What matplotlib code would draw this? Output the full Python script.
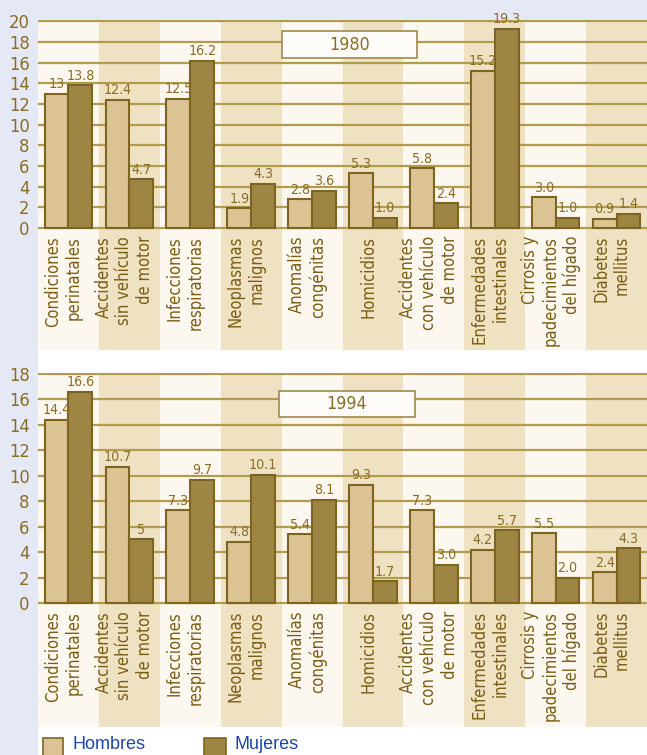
import matplotlib
matplotlib.use("Agg")
import matplotlib.pyplot as plt
from matplotlib import font_manager as fm
import numpy as np
from matplotlib.patches import Rectangle

# narrow font if there is one, else Arial-like
_fonts = fm.fontManager.ttflist
_narrow = [f for f in _fonts if f.name == 'Liberation Sans Narrow']
_dv_cond = [f for f in _fonts if f.name == 'DejaVu Sans' and f.stretch in ('condensed', 'semi-condensed')]
if _narrow:
    NFAM, NSTRETCH, SCALE = ['Liberation Sans Narrow', 'DejaVu Sans'], 'normal', 1.0
elif _dv_cond:
    NFAM, NSTRETCH, SCALE = ['DejaVu Sans'], 'condensed', 0.85
else:
    NFAM, NSTRETCH, SCALE = ['Liberation Sans', 'DejaVu Sans'], 'normal', 0.86
plt.rcParams['font.family'] = NFAM
plt.rcParams['font.stretch'] = NSTRETCH

categories = ["Condiciones\nperinatales", "Accidentes\nsin vehículo\nde motor",
              "Infecciones\nrespiratorias", "Neoplasmas\nmalignos",
              "Anomalías\ncongénitas", "Homicidios",
              "Accidentes\ncon vehículo\nde motor", "Enfermedades\nintestinales",
              "Cirrosis y\npadecimientos\ndel hígado", "Diabetes\nmellitus"]

hombres_1980 = [13, 12.4, 12.5, 1.9, 2.8, 5.3, 5.8, 15.2, 3.0, 0.9]
mujeres_1980 = [13.8, 4.7, 16.2, 4.3, 3.6, 1.0, 2.4, 19.3, 1.0, 1.4]
hom_lbl_1980 = ["13", "12.4", "12.5", "1.9", "2.8", "5.3", "5.8", "15.2", "3.0", "0.9"]
muj_lbl_1980 = ["13.8", "4.7", "16.2", "4.3", "3.6", "1.0", "2.4", "19.3", "1.0", "1.4"]

hombres_1994 = [14.4, 10.7, 7.3, 4.8, 5.4, 9.3, 7.3, 4.2, 5.5, 2.4]
mujeres_1994 = [16.6, 5, 9.7, 10.1, 8.1, 1.7, 3.0, 5.7, 2.0, 4.3]
hom_lbl_1994 = ["14.4", "10.7", "7.3", "4.8", "5.4", "9.3", "7.3", "4.2", "5.5", "2.4"]
muj_lbl_1994 = ["16.6", "5", "9.7", "10.1", "8.1", "1.7", "3.0", "5.7", "2.0", "4.3"]

W, H = 647, 755
lavender = '#e5e9f5'
light_col = '#fcf8ef'
shade_col = '#eee2c2'
grid_col = '#b39b4e'
edge_col = '#7d6521'
hom_col = '#dbc393'
muj_col = '#9d8643'
text_col = '#8a6c26'
lab_col = '#7a5c12'

fig = plt.figure(figsize=(W / 100, H / 100), dpi=100, facecolor='white')
fig.patches.append(Rectangle((0, 0), 38 / W, 1, transform=fig.transFigure,
                             facecolor=lavender, edgecolor='none', zorder=-10))
fig.patches.append(Rectangle((0, 1 - 20 / H), 1, 20 / H, transform=fig.transFigure,
                             facecolor=lavender, edgecolor='none', zorder=-10))


def panel(top_px, bot_px, zero_px, px_per_unit, ymax, hom, muj, hl, ml, year, box):
    ax = fig.add_axes([38 / W, 1 - bot_px / H, (W - 38) / W, (bot_px - top_px) / H])
    ylo = -(bot_px - zero_px) / px_per_unit
    yhi = (zero_px - top_px) / px_per_unit
    ax.set_xlim(-0.5, 9.5)
    ax.set_ylim(ylo, yhi)
    x = np.arange(len(categories))
    for i in x:
        ax.axvspan(i - 0.5, i + 0.5, color=light_col if i % 2 == 0 else shade_col,
                   zorder=0, lw=0)
    ticks = np.arange(0, ymax + 1, 2)
    for t in ticks:
        ax.axhline(t, color=grid_col, lw=1.6, zorder=1)
    w = 0.39
    ax.bar(x - w / 2, hom, w, color=hom_col, edgecolor=edge_col, lw=1.5, zorder=3)
    ax.bar(x + w / 2, muj, w, color=muj_col, edgecolor=edge_col, lw=1.5, zorder=3)
    off = 2.5 / px_per_unit
    for xi, v, s in zip(x - w / 2, hom, hl):
        ax.text(xi, v + off, s, ha='center', va='bottom',
                fontsize=12 * SCALE, color=text_col, zorder=4)
    for xi, v, s in zip(x + w / 2, muj, ml):
        ax.text(xi, v + off, s, ha='center', va='bottom',
                fontsize=12 * SCALE, color=text_col, zorder=4)
    for xi, c in zip(x, categories):
        ax.text(xi - 0.08, -8 / px_per_unit, c, rotation=90, ha='center', va='top',
                multialignment='right', fontsize=14 * SCALE, color=lab_col,
                linespacing=1.2, zorder=4)
    ax.set_yticks(ticks)
    ax.set_yticklabels([str(t) for t in ticks], fontsize=15.5 * SCALE, color=text_col)
    ax.tick_params(axis='y', length=0, pad=6)
    ax.set_xticks([])
    for sp in ax.spines.values():
        sp.set_visible(False)
    bx0, bx1, by0, by1 = box
    fig.patches.append(Rectangle((bx0 / W, 1 - by1 / H), (bx1 - bx0) / W, (by1 - by0) / H,
                                 transform=fig.transFigure, facecolor='#fdfcf9',
                                 edgecolor='#a08a4a', lw=1.2, zorder=5))
    fig.text((bx0 + bx1) / 2 / W, 1 - (by0 + by1) / 2 / H, year, ha='center',
             va='center', fontsize=15 * SCALE, color=text_col, zorder=6)
    return ax


panel(20, 350, 228, 10.33, 20, hombres_1980, mujeres_1980,
      hom_lbl_1980, muj_lbl_1980, "1980", (282, 417, 31, 58))
panel(373, 727, 603, 12.72, 18, hombres_1994, mujeres_1994,
      hom_lbl_1994, muj_lbl_1994, "1994", (279, 415, 391, 417))

# leyenda
fig.patches.append(Rectangle((43 / W, 1 - 760 / H), 20 / W, 22 / H, transform=fig.transFigure,
                             facecolor=hom_col, edgecolor=edge_col, lw=1.2))
fig.patches.append(Rectangle((204 / W, 1 - 760 / H), 22 / W, 22 / H, transform=fig.transFigure,
                             facecolor=muj_col, edgecolor=edge_col, lw=1.2))
fig.text(72 / W, 1 - 736 / H, "Hombres", ha='left', va='top', fontsize=13,
         color='#1f45a6', family=['Liberation Sans', 'DejaVu Sans'], stretch='normal')
fig.text(235 / W, 1 - 736 / H, "Mujeres", ha='left', va='top', fontsize=13,
         color='#1f45a6', family=['Liberation Sans', 'DejaVu Sans'], stretch='normal')

fig.savefig("out.png", dpi=100, facecolor='white')
